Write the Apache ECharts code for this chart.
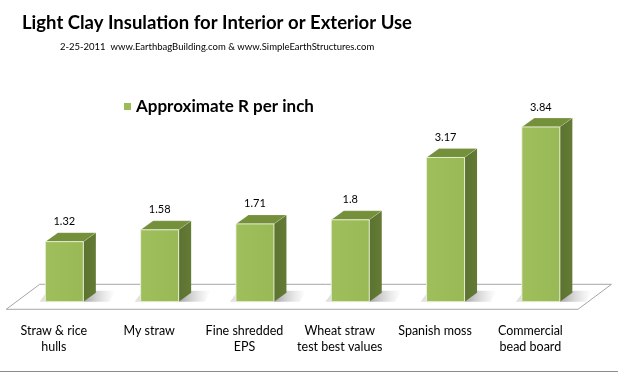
<!DOCTYPE html>
<html>
<head>
<meta charset="utf-8">
<script src="https://cdn.jsdelivr.net/npm/echarts@6/dist/echarts.min.js"></script>
<style>
html,body{margin:0;padding:0;background:#fff;}
#c{width:618px;height:373px;}
</style>
</head>
<body>
<div id="c"></div>
<script>
const categories = ["Straw & rice\nhulls", "My straw", "Fine shredded\nEPS", "Wheat straw\ntest best values", "Spanish moss", "Commercial\nbead board"];
const values = [1.32, 1.58, 1.71, 1.8, 3.17, 3.84];
const seriesName = "Approximate R per inch";
const titleText = "Light Clay Insulation for Interior or Exterior Use";
const subtitleText = "2-25-2011  www.EarthbagBuilding.com & www.SimpleEarthStructures.com";

const FONT = "Lato, 'Open Sans', sans-serif";
const chart = echarts.init(document.getElementById('c'), null, {renderer: 'canvas'});

// 3D styling
const SET_X = 10.5, SET_Y = -7.6;   // bars set back from floor front edge
const BAR_W = 38, DEP_X = 12.5, DEP_Y = -9;
const FLOOR_X = 33.5, FLOOR_Y = -25;

function renderBar(params, api) {
  const i = api.value(0), v = api.value(1);
  const base = api.coord([i, 0]);
  const top = api.coord([i, v]);
  const xl = base[0] + SET_X - BAR_W / 2, xr = xl + BAR_W;
  const yb = base[1] + SET_Y, yt = top[1] + SET_Y;
  return {
    type: 'group',
    children: [
      { type: 'polygon', shape: { points: [[xr, yb], [xr + 6, yb - 11], [xr + 32, yb - 11], [xr + 26, yb]] },
        style: { fill: { type: 'linear', x: 0, y: 0, x2: 1, y2: 0, colorStops: [
          { offset: 0, color: 'rgba(90,90,90,0.55)' }, { offset: 1, color: 'rgba(160,160,160,0)' }] } } },
      { type: 'polygon', shape: { points: [[xl - 6, yb], [xl, yb - 8], [xl + 4, yb - 8], [xl, yb]] },
        style: { fill: 'rgba(170,170,170,0.35)' } },
      { type: 'polygon', shape: { points: [[xr, yb], [xr + DEP_X, yb + DEP_Y], [xr + DEP_X, yt + DEP_Y], [xr, yt]] },
        style: { fill: { type: 'linear', x: 0, y: 0, x2: 1, y2: 0, colorStops: [
          { offset: 0, color: '#5c7230' }, { offset: 1, color: '#647b36' }] } } },
      { type: 'polygon', shape: { points: [[xl, yt], [xr, yt], [xr + DEP_X, yt + DEP_Y], [xl + DEP_X, yt + DEP_Y]] },
        style: { fill: '#74903a', stroke: 'rgba(255,255,255,0.35)', lineWidth: 0.6 } },
      { type: 'rect', shape: { x: xl, y: yt, width: BAR_W, height: yb - yt },
        style: { fill: { type: 'linear', x: 0, y: 0, x2: 1, y2: 0, colorStops: [
          { offset: 0, color: '#9fbe5c' }, { offset: 1, color: '#99b957' }] },
          stroke: 'rgba(235,242,220,0.9)', lineWidth: 1 } },
      { type: 'text', style: { text: String(v), x: xl + BAR_W / 2, y: yt - 20, align: 'center', verticalAlign: 'middle',
          fill: '#000', font: '11px ' + FONT } }
    ]
  };
}

function renderFloor(params, api) {
  const cs = params.coordSys;
  const x0 = cs.x, x1 = cs.x + cs.width, y0 = cs.y + cs.height;
  return {
    type: 'polygon',
    shape: { points: [[x0, y0], [x1, y0], [x1 + FLOOR_X, y0 + FLOOR_Y], [x0 + FLOOR_X, y0 + FLOOR_Y]] },
    style: { fill: '#ffffff', stroke: '#a6a6a6', lineWidth: 1 }
  };
}

chart.setOption({
  animation: false,
  backgroundColor: '#ffffff',
  title: [
    { text: titleText, left: 17, top: 9,
      textStyle: { fontFamily: FONT, fontWeight: 'bold', fontSize: 18.5, color: '#000' } },
    { text: subtitleText, left: 55, top: 37,
      textStyle: { fontFamily: FONT, fontWeight: 'normal', fontSize: 9.5, color: '#000' } }
  ],
  legend: {
    data: [seriesName], left: 119, top: 93, icon: 'rect', itemWidth: 7, itemHeight: 7, itemGap: 5,
    textStyle: { fontFamily: FONT, fontWeight: 'bold', fontSize: 17, color: '#000' }
  },
  grid: { left: 6.2, right: 40, top: 127.3, bottom: 63.7 },
  xAxis: {
    type: 'category', data: categories,
    axisLine: { show: false }, axisTick: { show: false },
    axisLabel: { interval: 0, margin: 14, fontFamily: FONT, fontSize: 12.5, lineHeight: 16, color: '#000' }
  },
  yAxis: { type: 'value', min: 0, max: 4, show: false, splitLine: { show: false } },
  graphic: [
    { type: 'line', shape: { x1: 0, y1: 371.5, x2: 618, y2: 371.5 }, style: { stroke: '#8c8c8c', lineWidth: 1 } }
  ],
  series: [
    { name: 'floor', type: 'custom', renderItem: renderFloor, data: [[0, 0]], z: 1, silent: true },
    { name: seriesName, type: 'custom', renderItem: renderBar, z: 2,
      itemStyle: { color: '#9BBB59' },
      encode: { x: 0, y: 1 },
      data: values.map((v, i) => [i, v]) }
  ]
});
</script>
</body>
</html>
